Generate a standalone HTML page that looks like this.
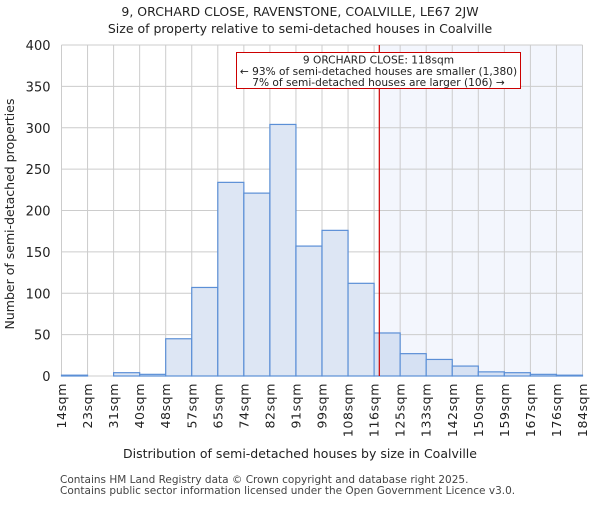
<!DOCTYPE html>
<html><head><meta charset="utf-8"><style>
body{margin:0;background:#fff;}
text{font-family:"DejaVu Sans","Liberation Sans",sans-serif;}
</style></head><body>
<svg id="c" width="600" height="500" xmlns="http://www.w3.org/2000/svg">
<text x="300" y="16" text-anchor="middle" font-size="12.5" fill="#222">9, ORCHARD CLOSE, RAVENSTONE, COALVILLE, LE67 2JW</text>
<text x="300" y="33" text-anchor="middle" font-size="12.5" fill="#222">Size of property relative to semi-detached houses in Coalville</text>
<g id="plot"></g>
<text x="300" y="458" text-anchor="middle" font-size="12.5" fill="#222">Distribution of semi-detached houses by size in Coalville</text>
<text transform="translate(14,214) rotate(-90)" text-anchor="middle" font-size="12.5" fill="#222">Number of semi-detached properties</text>
<text x="60" y="483" font-size="10.5" fill="#444">Contains HM Land Registry data © Crown copyright and database right 2025.</text>
<text x="60" y="494" font-size="10.5" fill="#444">Contains public sector information licensed under the Open Government Licence v3.0.</text>
</svg>
<script>
const binLabels=["14sqm","23sqm","31sqm","40sqm","48sqm","57sqm","65sqm","74sqm","82sqm","91sqm","99sqm","108sqm","116sqm","125sqm","133sqm","142sqm","150sqm","159sqm","167sqm","176sqm","184sqm"];
const counts=[1,0,4,2,45,107,234,221,304,157,176,112,52,27,20,12,5,4,2,1];
const yTicks=[0,50,100,150,200,250,300,350,400];
const markerBin=12.2;
const NS="http://www.w3.org/2000/svg";
const L=61.5,R=582.5,T=45,B=376,yMax=400;
const n=counts.length;
const xs=i=>L+(R-L)*i/n;
const ys=v=>B-(B-T)*v/yMax;
const g=document.getElementById('plot');
function mk(t,a){const e=document.createElementNS(NS,t);for(const k in a)e.setAttribute(k,a[k]);g.appendChild(e);return e;}
const mx=xs(markerBin);
let e=mk('rect',{x:mx,y:T,width:R-mx,height:B-T,fill:'#f3f6fd'});


for(let i=0;i<=n;i++){e=mk('line',{x1:xs(i),x2:xs(i),y1:T,y2:B,stroke:'#cccccc','stroke-width':1});

}
yTicks.forEach(v=>{e=mk('line',{x1:L,x2:R,y1:ys(v),y2:ys(v),stroke:'#cccccc','stroke-width':1});


e=mk('text',{x:L-11,y:ys(v)+5,'text-anchor':'end','font-size':'13',fill:'#222'});e.textContent=v;

});
counts.forEach((c,i)=>{e=mk('rect',{x:xs(i),y:ys(c),width:xs(i+1)-xs(i),height:B-ys(c),fill:i>=12?'#d6e1f3':'#dde6f4',stroke:'#5b8fd6','stroke-width':1.2});

});
binLabels.forEach((l,i)=>{const x=xs(i);e=mk('text',{transform:`translate(${x+4.5},${B+7}) rotate(-90)`,'text-anchor':'end','font-size':'12.5',fill:'#222','letter-spacing':'0.6'});e.textContent=l;

});
e=mk('line',{x1:mx,x2:mx,y1:T,y2:B,stroke:'#cc0000','stroke-width':1.2});


e=mk('rect',{x:236.5,y:52.5,width:284,height:36,fill:'#fff',stroke:'#cc0000','stroke-width':1});


["9 ORCHARD CLOSE: 118sqm","← 93% of semi-detached houses are smaller (1,380)","7% of semi-detached houses are larger (106) →"].forEach((t,k)=>{e=mk('text',{x:378.5,y:63.5+k*11.3,'text-anchor':'middle','font-size':'10.6',fill:'#222'});e.textContent=t;

});
</script>
</body></html>
